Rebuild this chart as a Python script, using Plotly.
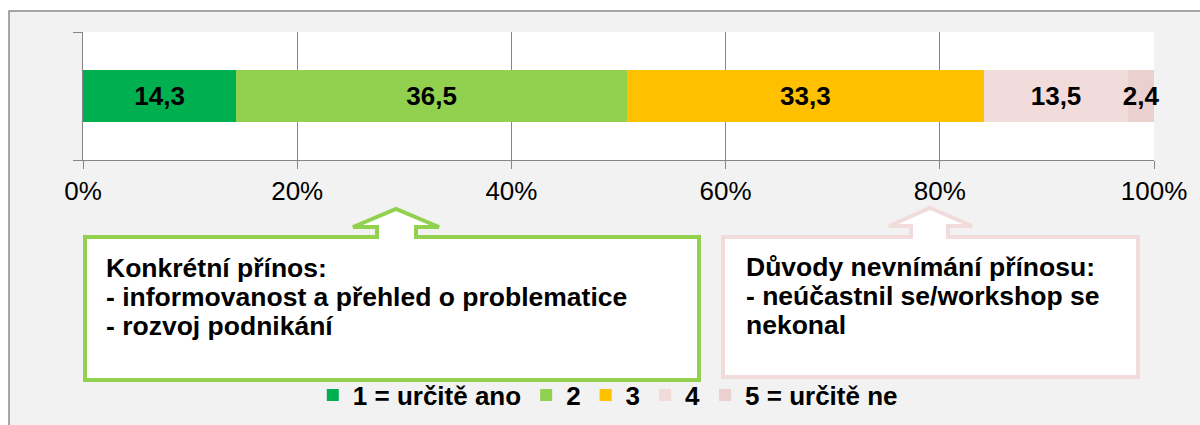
import plotly.graph_objects as go

# ---- data ----
categories = ["1 = určitě ano", "2", "3", "4", "5 = určitě ne"]
values = [14.3, 36.5, 33.3, 13.5, 2.4]
colors = ["#00B050", "#92D050", "#FFC000", "#F2DCDB", "#EBD0D0"]
tick_vals = [0, 20, 40, 60, 80, 100]
tick_text = ["0%", "20%", "40%", "60%", "80%", "100%"]
box1_lines = ["Konkrétní přínos:", "- informovanost a přehled o problematice", "- rozvoj podnikání"]
box2_lines = ["Důvody nevnímání přínosu:", "- neúčastnil se/workshop se", "nekonal"]

FONT = "Liberation Sans, Arial, sans-serif"
W, H = 1200, 425
L, R, T, B = 83, 1154, 32, 160  # plot area in pixels


def px(x):
    return (x - L) / (R - L)


def py(y):
    return (B - y) / (B - T)


fig = go.Figure()
for name, v, c in zip(categories, values, colors):
    fig.add_trace(go.Bar(
        x=[v], y=["q"], orientation="h", name=name,
        marker=dict(color=c, line=dict(width=0)),
        width=0.406,
        texttemplate="<b>%{x:.1f}</b>", textposition="inside",
        insidetextanchor="middle", textangle=0, constraintext="none",
        textfont=dict(family=FONT, size=26, color="black"),
        cliponaxis=False, hoverinfo="skip",
    ))

shapes = []
# white strips outside the gray frame
shapes.append(dict(type="rect", xref="paper", yref="paper", layer="below",
                   x0=px(-5), x1=px(1210), y0=py(-5), y1=py(11),
                   fillcolor="white", line=dict(width=0)))
shapes.append(dict(type="rect", xref="paper", yref="paper", layer="below",
                   x0=px(-5), x1=px(9), y0=py(-5), y1=py(430),
                   fillcolor="white", line=dict(width=0)))
# frame border
shapes.append(dict(type="rect", xref="paper", yref="paper", layer="below",
                   x0=px(9), x1=px(1215), y0=py(11), y1=py(440),
                   fillcolor="rgba(0,0,0,0)", line=dict(color="#8C8C8C", width=1.5)))


def callout(left, right, top, bottom, tipx, tipy, basey, wl, wr, sl, sr):
    pts = [(left, top), (sl, top), (sl, basey), (wl, basey), (tipx, tipy),
           (wr, basey), (sr, basey), (sr, top), (right, top), (right, bottom), (left, bottom)]
    return "M " + " L ".join(f"{px(a):.5f},{py(b):.5f}" for a, b in pts) + " Z"


shapes.append(dict(type="path", xref="paper", yref="paper", layer="above",
                   path=callout(85, 699, 237, 380, 396, 209, 227, 353, 439, 377, 416),
                   fillcolor="white", line=dict(color="#92D050", width=4)))
shapes.append(dict(type="path", xref="paper", yref="paper", layer="above",
                   path=callout(723, 1138, 237, 377, 930, 208, 226, 889, 972, 911, 948),
                   fillcolor="white", line=dict(color="#F2DCDB", width=4)))

annotations = []
for i, t in enumerate(box1_lines):
    annotations.append(dict(text=f"<b>{t}</b>", xref="paper", yref="paper",
                            x=px(104), y=py(268 + 29 * i), xanchor="left", yanchor="middle",
                            showarrow=False, font=dict(family=FONT, size=26.5, color="black")))
for i, t in enumerate(box2_lines):
    annotations.append(dict(text=f"<b>{t}</b>", xref="paper", yref="paper",
                            x=px(744), y=py(267 + 29 * i), xanchor="left", yanchor="middle",
                            showarrow=False, font=dict(family=FONT, size=26.5, color="black")))

fig.update_layout(
    width=W, height=H,
    margin=dict(l=L, r=W - R, t=T, b=H - B, pad=0, autoexpand=False),
    paper_bgcolor="#F2F2F2", plot_bgcolor="white",
    barmode="stack", separators=", ",
    showlegend=True,
    legend=dict(orientation="h", x=0.49, xanchor="center", y=py(395), yanchor="middle",
                traceorder="normal", bgcolor="rgba(0,0,0,0)",
                font=dict(family=FONT, size=26, color="black", weight="bold")),
    xaxis=dict(range=[0, 100], tickmode="array", tickvals=tick_vals, ticktext=tick_text,
               showgrid=True, gridcolor="#868686", gridwidth=1,
               showline=True, linecolor="#868686", linewidth=1,
               ticks="outside", ticklen=8, tickcolor="#868686",
               tickfont=dict(family=FONT, size=26, color="black"),
               zeroline=False, fixedrange=True, automargin=False),
    yaxis=dict(type="category", range=[-0.5, 0.5], showticklabels=False,
               showline=True, linecolor="#868686", linewidth=1,
               ticks="outside", tickson="boundaries", ticklen=9, tickcolor="#868686",
               showgrid=False, zeroline=False, fixedrange=True, automargin=False),
    shapes=shapes, annotations=annotations,
    font=dict(family=FONT),
)

fig.write_html("out.html", config={"displayModeBar": False},
               post_script="document.body.style.margin='0';")
